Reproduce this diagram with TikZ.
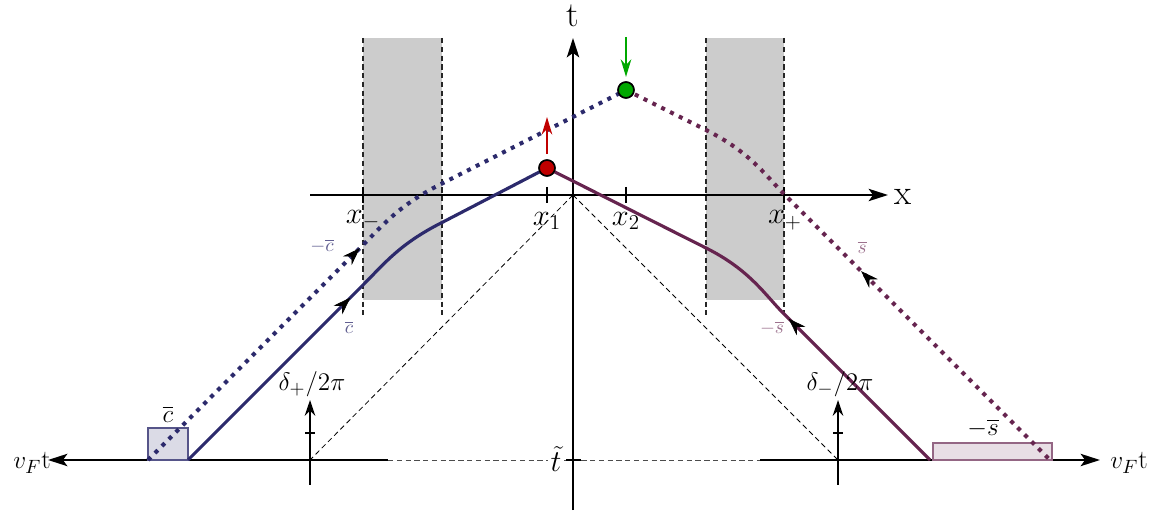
\documentclass[tikz,border=0pt]{standalone}
\usepackage{amsmath,amssymb}
\usepackage{tikz}
\usetikzlibrary{arrows.meta, positioning, decorations.markings}
\definecolor{chargeblue}{HTML}{2C2A6C}
\definecolor{spinpurple}{HTML}{66244F}
\definecolor{dotred}{HTML}{C00000}
\definecolor{dotgreen}{HTML}{00A800}
\definecolor{barriergray}{HTML}{CCCCCC}
\tikzset{
	axis/.style={line width=1.2pt, -{Stealth[length=11pt, width=7pt, inset=2.5pt]}},
	tickmark/.style={line width=1.4pt},
	barrier/.style={fill=barriergray, draw=none},
	barrieredge/.style={black!85, line width=0.6pt, dash pattern=on 3pt off 2pt},
	conepath/.style={black, line width=0.45pt, dash pattern=on 3pt off 2pt},
	solidpath/.style={line width=1.8pt},
	dottedpath/.style={line width=2.3pt, dash pattern=on 2.3pt off 3.3pt},
	midarrow/.style={decorate, decoration={markings, mark=at position #1 with {\arrow{Stealth[length=10pt, width=7pt]}}}},
	vertex/.style={circle, draw=black, line width=0.9pt, minimum size=9pt, inner sep=0pt},
	phasearrow/.style={line width=1pt, -{Stealth[length=9pt, width=6pt]}},
	axislabel/.style={font=\fontsize{20}{24}\selectfont, inner sep=1pt},
	biglabel/.style={font=\fontsize{18}{21}\selectfont, inner sep=1pt},
	midlabel/.style={font=\fontsize{15}{18}\selectfont, inner sep=1pt},
	smalllabel/.style={font=\fontsize{11}{13}\selectfont, inner sep=1pt}
}

\begin{document}
\begin{tikzpicture}[x=0.02cm, y=-0.02cm]
	\useasboundingbox (0,0) rectangle (1149,516);

	% Barrieren
	\fill[barrier] (363,38) rectangle (442,300);
	\fill[barrier] (706,38) rectangle (784,300);
	\foreach \bx in {363,442,706,784}
		\draw[barrieredge] (\bx,38) -- (\bx,315);

	% Punkte der Bahnen
	\coordinate (origin) at (573,195);
	\coordinate (cb0) at (188,460);
	\coordinate (cb1) at (363,285);
	\coordinate (cb2) at (443,222);
	\coordinate (cd0) at (148,460);
	\coordinate (cd1) at (363,245);
	\coordinate (cd2) at (443,183);
	\coordinate (sb1) at (706,248);
	\coordinate (sb2) at (784,314);
	\coordinate (sb3) at (930,460);
	\coordinate (sd1) at (706,130);
	\coordinate (sd2) at (784,194);
	\coordinate (sd3) at (1050,460);
	\coordinate (dpl) at (310,460);
	\coordinate (dml) at (838,460);

	% Achsen
	\draw[axis] (573,510) -- (573,38);
	\draw[axis] (310,195) -- (888,195);
	\draw[axis] (388,460) -- (48,460);
	\draw[axis] (760,460) -- (1100,460);
	\draw[conepath, black!70] (388,460) -- (760,460);
	\foreach \tx in {363,547,626,784}
		\draw[tickmark] (\tx,187) -- (\tx,203);
	\draw[tickmark] (566,460) -- (581,460);

	% Lichtkegel
	\draw[conepath] (origin) -- (dpl);
	\draw[conepath] (origin) -- (dml);

	% Phasenspruenge
	\draw[phasearrow] (dpl) ++(0,25) -- (310,400);
	\draw[line width=1pt] (305,433) -- (315,433);
	\draw[phasearrow] (dml) ++(0,25) -- (838,400);
	\draw[line width=1pt] (833,433) -- (843,433);

	% Ladungs- und Spinpakete
	\draw[chargeblue!80, fill=chargeblue!17, line width=0.8pt] (148,460) rectangle (188,428);
	\draw[spinpurple!70, fill=spinpurple!15, line width=0.8pt] (933,460) rectangle (1052,443);

	\node (rdot) [vertex, fill=dotred] at (547,168) {};
	\node (gdot) [vertex, fill=dotgreen] at (626,90) {};

	% Bahnen
	\draw[chargeblue, solidpath] (cb0) -- (cb1) .. controls (385,263) and (400,243.5) .. (cb2) -- (rdot.center);
	\draw[chargeblue, dottedpath] (cd0) -- (cd1) .. controls (385,223) and (400,204.5) .. (cd2) -- (gdot.center);
	\draw[spinpurple, solidpath] (rdot.center) -- (sb1) .. controls (750,270) and (765,295) .. (sb2) -- (sb3);
	\draw[spinpurple, dottedpath] (gdot.center) -- (sd1) .. controls (750,152) and (765,175) .. (sd2) -- (sd3);
	\path[chargeblue, midarrow=0.93] (cb0) -- (cb1);
	\path[chargeblue, midarrow=0.985] (cd0) -- (cd1);
	\path[spinpurple, midarrow=0.97] (sb3) -- (sb2);
	\path[spinpurple, midarrow=0.71] (sd3) -- (sd2);

	\node (rdot) [vertex, fill=dotred] at (547,168) {};
	\node (gdot) [vertex, fill=dotgreen] at (626,90) {};
	\draw[dotred, line width=1.2pt, -{Stealth[length=10pt, width=6pt]}, shorten <=3pt] (rdot) -- (547,117);
	\coordinate (gtail) at (626,37);
	\draw[dotgreen, line width=1.2pt, -{Stealth[length=10pt, width=6pt]}, shorten >=2.5pt] (gtail) -- (gdot);

	% Beschriftungen
	\node (lblt) [axislabel] at (573,16) {t};
	\node (lblx) [axislabel] at (903,197) {x};
	\node (lblxm) [biglabel] at (363,220) {$x_-$};
	\node (lblxa) [biglabel] at (547,221) {$x_1$};
	\node (lblxb) [biglabel] at (626,221) {$x_2$};
	\node (lblxp) [biglabel] at (785,220) {$x_+$};
	\node (lbltilde) [biglabel, fill=white, inner sep=1.5pt] at (556,459) {$\tilde{t}$};
	\node (lblvl) [midlabel] at (32,463) {$v_F$t};
	\node (lblvr) [midlabel] at (1129,463) {$v_F$t};
	\node (lbldp) [midlabel] at (312,384) {$\delta_+/2\pi$};
	\node (lbldm) [midlabel] at (840,384) {$\delta_-/2\pi$};
	\node (lblcrect) [midlabel] at (168,414) {$\overline{c}$};
	\node (lblsrect) [midlabel] at (983,428) {$-\overline{s}$};
	\node (lblmcb) [smalllabel, text=chargeblue!75] at (322,246) {$-\overline{c}$};
	\node (lblcb) [smalllabel, text=chargeblue!75] at (349,327) {$\overline{c}$};
	\node (lblsb) [smalllabel, text=spinpurple!65] at (862,247) {$\overline{s}$};
	\node (lblmsb) [smalllabel, text=spinpurple!65] at (772,328) {$-\overline{s}$};
\end{tikzpicture}
\end{document}
